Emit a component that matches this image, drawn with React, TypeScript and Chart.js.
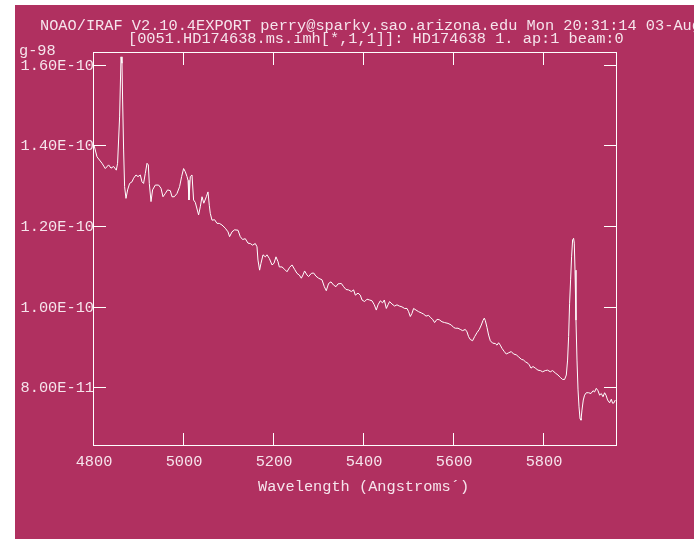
import React, { useEffect, useRef } from "react";
import { Chart, registerables } from "chart.js";

Chart.register(...registerables);

// Spectrum of HD174638, wavelength in Angstroms, flux in units of 1E-10
const WAVELENGTH = [
  4800, 4806.7, 4817.8, 4825.1, 4832.4, 4837.8, 4843.6, 4849.6, 4852.4, 4856.9,
  4860.0, 4862.2, 4863.6, 4865.8, 4868.0, 4871.1, 4874.7, 4879.1, 4884.4, 4888.0,
  4893.3, 4897.8, 4902.9, 4906.7, 4910.2, 4914.0, 4917.8, 4920.7, 4922.9, 4926.7,
  4930.2, 4936.2, 4943.6, 4948.9, 4953.3, 4958.4, 4963.6, 4969.6, 4973.3, 4978.4,
  4984.4, 4990.2, 4994.7, 4999.1, 5002.9, 5006.7, 5008.9, 5011.1, 5014.0, 5017.8,
  5021.3, 5025.1, 5032.4, 5036.2, 5040.0, 5044.0, 5049.6, 5053.3, 5056.2, 5058.4,
  5062.2, 5068.0, 5073.3, 5078.4, 5084.4, 5091.8, 5097.8, 5101.3, 5106.7, 5112.4,
  5120.0, 5125.1, 5130.2, 5136.2, 5142.2, 5147.3, 5152.4, 5158.4, 5162.2, 5164.4,
  5168.0, 5171.1, 5175.6, 5180.7, 5184.4, 5189.6, 5195.6, 5200.0, 5204.4, 5208.9,
  5211.8, 5217.8, 5223.6, 5228.9, 5234.7, 5240.0, 5245.8, 5251.1, 5256.2, 5260.7,
  5264.4, 5268.0, 5273.3, 5276.9, 5282.9, 5288.0, 5293.3, 5299.1, 5306.7, 5311.8,
  5316.2, 5321.3, 5326.7, 5332.4, 5337.8, 5342.2, 5349.6, 5354.7, 5360.0, 5365.8,
  5371.8, 5376.9, 5380.7, 5386.7, 5391.8, 5395.6, 5401.3, 5406.7, 5412.4, 5417.8,
  5422.9, 5427.3, 5431.1, 5436.2, 5441.3, 5445.1, 5449.6, 5453.3, 5456.9, 5462.2,
  5468.0, 5473.3, 5478.4, 5484.4, 5490.2, 5495.6, 5499.1, 5502.9, 5506.7, 5510.2,
  5515.6, 5521.3, 5527.3, 5532.4, 5537.8, 5543.6, 5547.3, 5552.4, 5556.9, 5562.2,
  5567.3, 5573.3, 5579.1, 5586.7, 5594.0, 5599.1, 5602.9, 5608.9, 5614.0, 5619.1,
  5625.1, 5628.9, 5632.4, 5636.2, 5641.3, 5645.8, 5651.1, 5656.2, 5660.7, 5664.4,
  5667.3, 5669.6, 5673.3, 5676.9, 5680.7, 5685.8, 5691.8, 5695.6, 5699.1, 5702.9,
  5706.7, 5711.8, 5716.2, 5721.3, 5727.3, 5732.4, 5738.4, 5743.6, 5749.6, 5754.7,
  5758.4, 5764.4, 5767.3, 5771.1, 5775.6, 5780.7, 5786.7, 5791.8, 5796.9, 5802.9,
  5808.0, 5814.0, 5819.1, 5825.1, 5831.1, 5836.2, 5841.3, 5845.8, 5849.6, 5852.4,
  5854.7, 5856.9, 5859.1, 5861.3, 5863.6, 5865.8, 5867.3, 5868.9, 5871.1, 5873.3,
  5875.6, 5877.8, 5880.0, 5882.2, 5884.4, 5887.3, 5890.2, 5894.0, 5899.1, 5904.4,
  5908.9, 5912.4, 5916.2, 5920.0, 5923.6, 5927.3, 5931.1, 5934.7, 5937.8, 5941.3,
  5945.8, 5949.6, 5952.4, 5955.6, 5958.4,
];

const FLUX = [
  1.403, 1.374, 1.358, 1.345, 1.354, 1.346, 1.350, 1.341, 1.358, 1.473,
  1.622, 1.606, 1.515, 1.391, 1.300, 1.271, 1.292, 1.308, 1.312, 1.321,
  1.329, 1.325, 1.329, 1.312, 1.308, 1.333, 1.358, 1.354, 1.308, 1.263,
  1.292, 1.304, 1.304, 1.296, 1.275, 1.283, 1.292, 1.290, 1.275, 1.275,
  1.283, 1.300, 1.325, 1.345, 1.337, 1.325, 1.316, 1.267, 1.325, 1.329,
  1.267, 1.261, 1.230, 1.250, 1.275, 1.259, 1.275, 1.287, 1.254, 1.234,
  1.217, 1.218, 1.209, 1.209, 1.205, 1.197, 1.188, 1.176, 1.188, 1.193,
  1.192, 1.176, 1.169, 1.171, 1.160, 1.159, 1.155, 1.159, 1.151, 1.118,
  1.093, 1.110, 1.131, 1.126, 1.131, 1.122, 1.106, 1.110, 1.126, 1.114,
  1.101, 1.101, 1.095, 1.089, 1.100, 1.106, 1.095, 1.085, 1.081, 1.073,
  1.081, 1.091, 1.081, 1.077, 1.085, 1.086, 1.078, 1.073, 1.069, 1.052,
  1.042, 1.060, 1.064, 1.056, 1.052, 1.059, 1.060, 1.052, 1.045, 1.044,
  1.040, 1.044, 1.031, 1.036, 1.031, 1.019, 1.015, 1.021, 1.019, 1.017,
  1.007, 0.994, 1.007, 1.017, 1.012, 1.019, 0.998, 1.007, 1.015, 1.009,
  1.004, 1.007, 1.004, 1.002, 0.998, 0.998, 0.990, 0.978, 0.986, 0.998,
  0.994, 0.990, 0.987, 0.984, 0.979, 0.981, 0.976, 0.971, 0.963, 0.971,
  0.970, 0.965, 0.963, 0.961, 0.957, 0.951, 0.949, 0.949, 0.946, 0.943,
  0.946, 0.940, 0.928, 0.921, 0.918, 0.928, 0.938, 0.946, 0.957, 0.968,
  0.974, 0.968, 0.951, 0.932, 0.918, 0.912, 0.911, 0.907, 0.913, 0.907,
  0.899, 0.891, 0.885, 0.888, 0.891, 0.885, 0.883, 0.878, 0.872, 0.870,
  0.866, 0.862, 0.858, 0.850, 0.854, 0.850, 0.845, 0.844, 0.841, 0.844,
  0.845, 0.841, 0.844, 0.838, 0.833, 0.827, 0.822, 0.822, 0.833, 0.870,
  0.928, 1.011, 1.069, 1.126, 1.168, 1.172, 1.160, 1.093, 0.969, 0.870,
  0.796, 0.754, 0.725, 0.721, 0.746, 0.771, 0.783, 0.789, 0.789, 0.787,
  0.794, 0.791, 0.800, 0.794, 0.783, 0.787, 0.779, 0.789, 0.783, 0.771,
  0.764, 0.773, 0.763, 0.764, 0.771,
];

const FLUX_UNIT = 1e-10;

const X_TICKS = [4800, 5000, 5200, 5400, 5600, 5800];
const Y_TICKS = [0.8e-10, 1.0e-10, 1.2e-10, 1.4e-10, 1.6e-10];
const X_MIN = 4800;
const X_MAX = 5960;
const Y_MIN = 0.6594e-10;
const Y_MAX = 1.6315e-10;

const HEADER_LINE_1 =
  "NOAO/IRAF V2.10.4EXPORT perry@sparky.sao.arizona.edu Mon 20:31:14 03-Aug-98";
const HEADER_LINE_2 = "[0051.HD174638.ms.imh[*,1,1]]: HD174638 1. ap:1 beam:0";
const HEADER_WRAP = "g-98";
const X_TITLE = "Wavelength (Angstroms\u00B4)";

const BG = "#B03060";
const INK = "#ffffff";
const TEXT = "#f6e4ec";
const FONT_FAMILY = '"Liberation Mono", "DejaVu Sans Mono", monospace';
const FONT_SIZE = 15.3;
const TICK_LEN = 12.5;

const irafFrame = {
  id: "irafFrame",
  beforeDraw(chart: any) {
    const { ctx, width, height } = chart;
    ctx.save();
    ctx.fillStyle = "#ffffff";
    ctx.fillRect(0, 0, width, height);
    ctx.fillStyle = BG;
    ctx.fillRect(15, 5, width - 15, height - 5);
    ctx.restore();
  },
  afterDraw(chart: any) {
    const { ctx, chartArea } = chart;
    const xs = chart.scales.x;
    const ys = chart.scales.y;
    const L = Math.round(chartArea.left) - 0.5;
    const R = Math.round(chartArea.right) + 0.5;
    const T = Math.round(chartArea.top) - 0.5;
    const B = Math.round(chartArea.bottom) + 0.5;

    ctx.save();
    ctx.strokeStyle = INK;
    ctx.lineWidth = 1;
    ctx.strokeRect(L, T, R - L, B - T);

    ctx.beginPath();
    for (const v of X_TICKS) {
      const px = Math.round(xs.getPixelForValue(v)) - 0.5;
      ctx.moveTo(px, B);
      ctx.lineTo(px, B - TICK_LEN);
      ctx.moveTo(px, T);
      ctx.lineTo(px, T + TICK_LEN);
    }
    for (const v of Y_TICKS) {
      const py = Math.round(ys.getPixelForValue(v)) - 0.5;
      ctx.moveTo(L, py);
      ctx.lineTo(L + TICK_LEN, py);
      ctx.moveTo(R, py);
      ctx.lineTo(R - TICK_LEN, py);
    }
    ctx.stroke();

    ctx.fillStyle = TEXT;
    ctx.font = `${FONT_SIZE}px ${FONT_FAMILY}`;
    ctx.textBaseline = "alphabetic";
    ctx.textAlign = "left";
    ctx.fillText(HEADER_LINE_1, 40, 29.5);
    ctx.fillText(HEADER_LINE_2, 128, 43);
    ctx.fillText(HEADER_WRAP, 19, 55);
    ctx.fillText(X_TITLE, 258, 491);
    ctx.restore();
  },
};

export default function App() {
  const ref = useRef<HTMLCanvasElement>(null);

  useEffect(() => {
    if (!ref.current) return;
    const points = WAVELENGTH.map((w, i) => ({ x: w, y: FLUX[i] * FLUX_UNIT }));
    const font = { family: FONT_FAMILY, size: FONT_SIZE, lineHeight: 1.2 };

    const chart = new Chart(ref.current, {
      type: "line",
      data: {
        datasets: [
          {
            data: points,
            borderColor: INK,
            borderWidth: 1,
            pointRadius: 0,
            tension: 0,
            fill: false,
          },
        ],
      },
      options: {
        animation: false,
        responsive: false,
        maintainAspectRatio: false,
        devicePixelRatio: 1,
        events: [],
        layout: { padding: { left: 0, top: 53, right: 78, bottom: 0 } },
        plugins: {
          legend: { display: false },
          tooltip: { enabled: false },
          title: { display: false },
        },
        scales: {
          x: {
            type: "linear",
            min: X_MIN,
            max: X_MAX,
            border: { display: false },
            grid: { display: false, drawTicks: false },
            ticks: {
              color: TEXT,
              font,
              padding: 8,
              maxRotation: 0,
              autoSkip: false,
              callback: (v: any) => String(v),
            },
            afterBuildTicks: (s: any) => {
              s.ticks = X_TICKS.map((v) => ({ value: v }));
            },
            afterFit: (s: any) => {
              s.height = 94;
            },
          },
          y: {
            type: "linear",
            min: Y_MIN,
            max: Y_MAX,
            border: { display: false },
            grid: { display: false, drawTicks: false },
            ticks: {
              color: TEXT,
              font,
              padding: 0,
              autoSkip: false,
              callback: (v: any) => Number(v).toExponential(2).toUpperCase(),
            },
            afterBuildTicks: (s: any) => {
              s.ticks = Y_TICKS.map((v) => ({ value: v }));
            },
            afterFit: (s: any) => {
              s.width = 94;
            },
          },
        },
      },
      plugins: [irafFrame],
    } as any);

    return () => chart.destroy();
  }, []);

  return (
    <div style={{ position: "absolute", left: 0, top: 0, width: 694, height: 539 }}>
      <canvas ref={ref} width={694} height={539} style={{ display: "block" }} />
    </div>
  );
}
